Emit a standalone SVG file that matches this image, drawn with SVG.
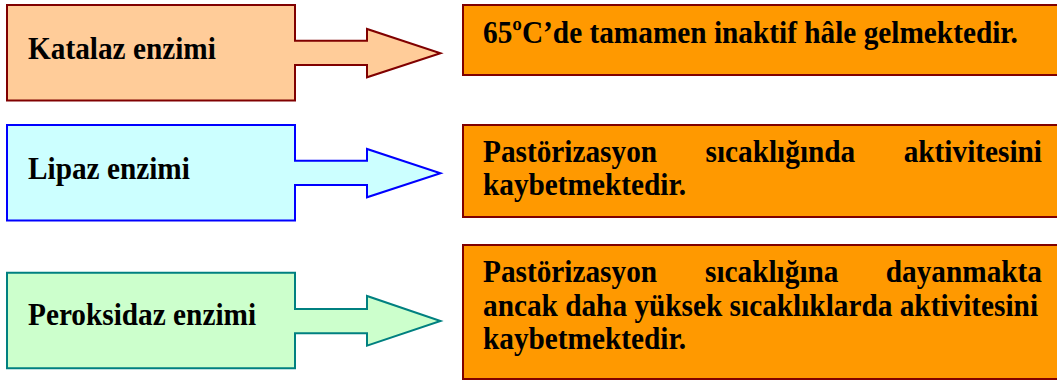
<svg xmlns="http://www.w3.org/2000/svg" width="1057" height="381" viewBox="0 0 1057 381">
<style>
text{font-family:'Liberation Serif','Times New Roman','DejaVu Serif',serif;font-weight:700;font-size:29.3px;fill:#000}
.box{fill:#FF9900;stroke:#800000;stroke-width:2}
.c1{fill:#FFCC99;stroke:#800000;stroke-width:2}
.c2{fill:#CCFFFF;stroke:#0000FF;stroke-width:2}
.c3{fill:#CCFFCC;stroke:#008080;stroke-width:2}
</style>
<rect width="1057" height="381" fill="#fff"/>
<g id="katalaz">
<path class="c1" d="M7,5 H295 V40.7 H367 V29 L440.5,53.3 L367,77.3 V65 H295 V100.5 H7 Z"/>
<g transform="scale(1,1.08)"><text x="28" y="54.63">Katalaz enzimi</text></g>
</g>
<g id="lipaz">
<path class="c2" d="M7,125 H295 V160.7 H367 V149 L440.5,173.3 L367,197.3 V185 H295 V220.5 H7 Z"/>
<g transform="scale(1,1.08)"><text x="28" y="165.74">Lipaz enzimi</text></g>
</g>
<g id="peroksidaz">
<path class="c3" d="M7,272.7 H295 V309 H367 V296 L440.5,321 L367,345.7 V333.3 H295 V368.3 H7 Z"/>
<g transform="scale(1,1.08)"><text x="28" y="300.93">Peroksidaz enzimi</text></g>
</g>
<g id="sonuc1">
<rect class="box" x="463" y="5" width="620" height="70"/>
<g transform="scale(1,1.08)"><text x="483" y="39.5">65ºC’de tamamen inaktif hâle gelmektedir.</text></g>
</g>
<g id="sonuc2">
<rect class="box" x="463" y="125" width="620" height="92"/>
<g transform="scale(1,1.08)">
<text y="150"><tspan x="483">Pastörizasyon</tspan><tspan x="705.5">sıcaklığında</tspan><tspan x="1042" text-anchor="end">aktivitesini</tspan></text>
<text x="483" y="180.83">kaybetmektedir.</text>
</g>
</g>
<g id="sonuc3">
<rect class="box" x="463" y="245" width="620" height="134"/>
<g transform="scale(1,1.08)">
<text y="261.57"><tspan x="483">Pastörizasyon</tspan><tspan x="705">sıcaklığına</tspan><tspan x="1042" text-anchor="end">dayanmakta</tspan></text>
<text x="483" y="292.41">ancak daha yüksek sıcaklıklarda aktivitesini</text>
<text x="483" y="323.15">kaybetmektedir.</text>
</g>
</g>
</svg>
